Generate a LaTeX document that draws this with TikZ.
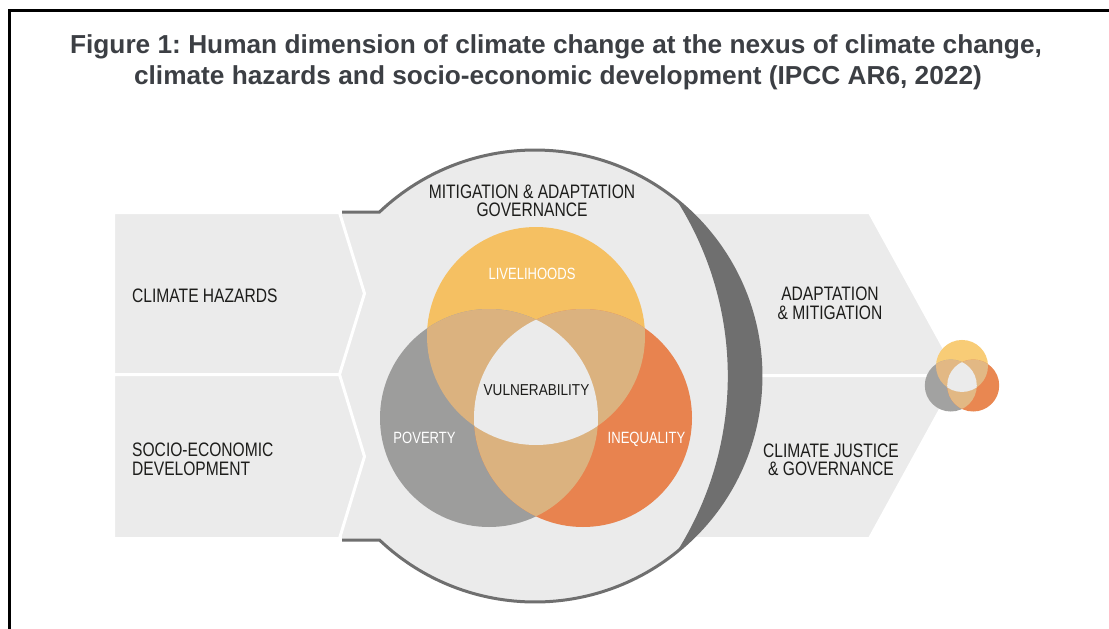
\documentclass[tikz,border=0pt]{standalone}
\usepackage{fontspec}
\setmainfont{Liberation Sans}
\newfontfamily\titlefont{Liberation Sans}[FakeStretch=1.01]
\newfontfamily\labelfont{Liberation Sans}[FakeStretch=0.8]
\newfontfamily\tightfont{Liberation Sans}[FakeStretch=0.86]
\frenchspacing

\definecolor{panel}{HTML}{EBEBEB}
\definecolor{rim}{HTML}{6F6F6F}
\definecolor{vyellow}{HTML}{F5C062}
\definecolor{vgray}{HTML}{9D9D9C}
\definecolor{vorange}{HTML}{E8834F}
\definecolor{vtan}{HTML}{DBB27F}
\definecolor{syellow}{HTML}{F8CC76}
\definecolor{sgray}{HTML}{A2A2A1}
\definecolor{sorange}{HTML}{E98751}
\definecolor{stan}{HTML}{E2B884}
\definecolor{titlegray}{HTML}{3C3F44}
\definecolor{ink}{HTML}{1D1D1B}

% three-circle Venn around its centroid: #1 shift, #2 scale,
% #3 top, #4 left, #5 right, #6 pairwise overlap colour
\newcommand\drawvenn[6]{%
  \begin{scope}[shift={#1}, scale=#2]
    \fill[#3] (0,54.7) circle (109);
    \fill[#4] (-47,-27.3) circle (109);
    \fill[#5] (47,-27.3) circle (109);
    \begin{scope}
      \clip (0,54.7) circle (109);
      \fill[#6] (-47,-27.3) circle (109);
      \fill[#6] (47,-27.3) circle (109);
    \end{scope}
    \begin{scope}
      \clip (-47,-27.3) circle (109);
      \fill[#6] (47,-27.3) circle (109);
    \end{scope}
    \begin{scope}
      \clip (0,54.7) circle (109);
      \clip (-47,-27.3) circle (109);
      \fill[panel] (47,-27.3) circle (109);
    \end{scope}
  \end{scope}}

\tikzset{
  titletext/.style={font=\titlefont\bfseries\fontsize{26}{30}\selectfont, text=titlegray, inner sep=0},
  lbl/.style={font=\labelfont\fontsize{19.5}{18.5}\selectfont, text=ink, inner sep=0},
  vlbl/.style={font=\labelfont\fontsize{16.3}{16}\selectfont, text=white, inner sep=0},
  panelbox/.style={fill=panel, draw=white, line width=3pt, line join=miter},
}

\begin{document}
\begin{tikzpicture}[x=1pt, y=1pt]
  \useasboundingbox (0,0) rectangle (1109,-629);
  \clip (0,0) rectangle (1109,-629);

  % page frame
  \draw[line width=2.5pt, black] (9.7,-700) -- (9.7,-10.6) -- (1200,-10.6);

  % caption
  \node[titletext, anchor=base] (title1) at (556,-53)
    {Figure 1: Human dimension of climate change at the nexus of climate change,};
  \node[titletext, anchor=base] (title2) at (558,-84)
    {climate hazards and socio-economic development (IPCC AR6, 2022)};

  % outgoing arrow (two halves)
  \path[panelbox] (650,-212.5) -- (869.5,-212.5) -- (959,-375.5) -- (650,-375.5) -- cycle;
  \path[panelbox] (650,-375.5) -- (959,-375.5) -- (869.5,-538.5) -- (650,-538.5) -- cycle;

  % governance disc with flanges
  \fill[panel] (535,-376) circle (226);
  \fill[panel] (342,-212) rectangle (390,-540);
  % rim shading on the right
  \fill[rim] (535,-376) ++(51.2:226) arc[start angle=51.2, end angle=-51.2, radius=226]
    arc[start angle=-32.45, end angle=32.45, radius=328] -- cycle;
  % outline
  \draw[rim, line width=3pt] (342,-212) -- (379.5,-212)
    arc[start angle=133.47, end angle=-133.47, radius=226] -- (342,-540);

  % incoming chevrons
  \path[panelbox] (113.5,-212.5) -- (339.5,-212.5) -- (364.5,-293.5) -- (339.5,-374.5)
    -- (113.5,-374.5) -- cycle;
  \path[panelbox] (113.5,-374.5) -- (339.5,-374.5) -- (364.5,-456.5) -- (339.5,-538.5)
    -- (113.5,-538.5) -- cycle;

  % Venn diagrams
  \drawvenn{(536,-390.7)}{1}{vyellow}{vgray}{vorange}{vtan}
  \drawvenn{(962,-379)}{0.2385}{syellow}{sgray}{sorange}{stan}

  % labels
  \node[lbl, anchor=base] (gov1) at (532,-198) {MITIGATION \& ADAPTATION};
  \node[lbl, anchor=base] (gov2) at (532,-216.5) {GOVERNANCE};
  \node[lbl, anchor=base west] (haz) at (132,-302) {CLIMATE HAZARDS};
  \node[lbl, anchor=base west] (soc1) at (132,-456.5) {SOCIO-ECONOMIC};
  \node[lbl, anchor=base west] (soc2) at (132,-475) {DEVELOPMENT};
  \node[lbl, anchor=base] (ada1) at (830,-300.5) {ADAPTATION};
  \node[lbl, anchor=base] (ada2) at (830,-319) {\& MITIGATION};
  \node[lbl, anchor=base] (jus1) at (831,-457) {CLIMATE JUSTICE};
  \node[lbl, anchor=base] (jus2) at (831,-475.5) {\& GOVERNANCE};

  \node[vlbl, anchor=base] (liv) at (532,-279) {LIVELIHOODS};
  \node[vlbl, anchor=base] (pov) at (424.5,-443) {POVERTY};
  \node[vlbl, anchor=base] (ineq) at (646.5,-443) {INEQUALITY};
  \node[inner sep=0, text=ink, anchor=base, font=\tightfont\fontsize{15.8}{16}\selectfont]
    (vul) at (536.5,-395.5) {VULNERABILITY};
\end{tikzpicture}
\end{document}
